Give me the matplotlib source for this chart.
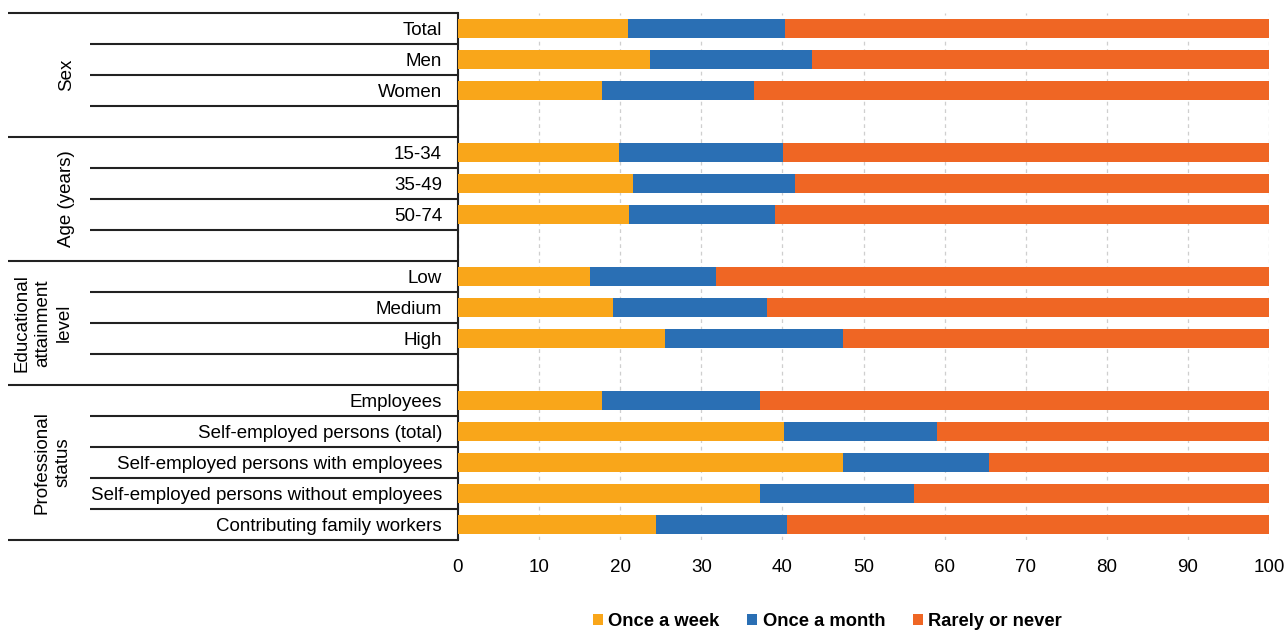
import matplotlib.pyplot as plt
from matplotlib.patches import Patch

plt.rcParams['font.family'] = ['Liberation Sans', 'DejaVu Sans']

# Rows top to bottom; None marks the empty spacer row after each group
row_labels = ["Total", "Men", "Women", None,
              "15-34", "35-49", "50-74", None,
              "Low", "Medium", "High", None,
              "Employees", "Self-employed persons (total)",
              "Self-employed persons with employees",
              "Self-employed persons without employees",
              "Contributing family workers"]

once_week = [21.0, 23.7, 17.8, None,
             19.9, 21.6, 21.1, None,
             16.3, 19.1, 25.5, None,
             17.7, 40.2, 47.5, 37.2, 24.4]
once_month = [19.3, 19.9, 18.7, None,
              20.2, 20.0, 18.0, None,
              15.5, 19.0, 22.0, None,
              19.5, 18.9, 18.0, 19.0, 16.2]

groups = ["Sex", "Age (years)", "Educational\nattainment\nlevel", "Professional\nstatus"]
group_rows = [(0, 3), (4, 7), (8, 11), (12, 16)]   # first and last row of each group
group_x = [-0.483, -0.483, -0.512, -0.4995]

series_names = ["Once a week", "Once a month", "Rarely or never"]
colors = ["#F9A61A", "#2A6FB4", "#EF6624"]

fig = plt.figure(figsize=(12.87, 6.32), dpi=100)
ax = fig.add_axes([458 / 1287, 92 / 632, 811 / 1287, 527 / 632])

ypos = [i for i, lab in enumerate(row_labels) if lab is not None]
w = [once_week[i] for i in ypos]
m = [once_month[i] for i in ypos]
r = [100 - a - b for a, b in zip(w, m)]

h = 0.64
ax.barh(ypos, w, height=h, color=colors[0], zorder=3)
ax.barh(ypos, m, left=w, height=h, color=colors[1], zorder=3)
ax.barh(ypos, r, left=[a + b for a, b in zip(w, m)], height=h, color=colors[2], zorder=3)

ax.set_xlim(0, 100)
ax.set_ylim(len(row_labels) - 0.5, -0.5)
ax.set_xticks(range(0, 101, 10))
ax.set_yticks(ypos)
ax.set_yticklabels([row_labels[i] for i in ypos])
ax.tick_params(axis='y', length=0, pad=11.5, labelsize=13.5)
ax.tick_params(axis='x', length=0, pad=14, labelsize=13.5)
ax.grid(axis='x', color='#CFCFCF', linestyle=(0, (3, 3)), linewidth=0.9, zorder=0)

for side in ['top', 'right', 'bottom']:
    ax.spines[side].set_visible(False)
ax.spines['left'].set_linewidth(1.5)
ax.spines['left'].set_color('#222222')

# table lines left of the axis
tr = ax.get_yaxis_transform()
x_full = (8 - 458) / 811
x_part = (90 - 458) / 811
for k in range(len(row_labels) + 1):
    yb = k - 0.5
    full = k == 0 or k == len(row_labels) or any(k == a for a, _ in group_rows)
    ax.plot([x_full if full else x_part, 0], [yb, yb], transform=tr, color='#222222',
            linewidth=1.5, clip_on=False, solid_capstyle='butt')

for name, (a, b), gx in zip(groups, group_rows, group_x):
    ax.text(gx, (a + b) / 2, name, transform=tr, rotation=90, ha='center', va='center',
            fontsize=13.5, linespacing=1.32, multialignment='center')

handles = [Patch(facecolor=c, edgecolor='none') for c in colors]
fig.legend(handles, series_names, loc='center', bbox_to_anchor=(0.643, 0.017), ncol=3,
           frameon=False, prop={'weight': 'bold', 'size': 13.2}, handlelength=0.55,
           handleheight=0.55, handletextpad=0.3, columnspacing=1.5)

fig.savefig("out.png", dpi=100)
